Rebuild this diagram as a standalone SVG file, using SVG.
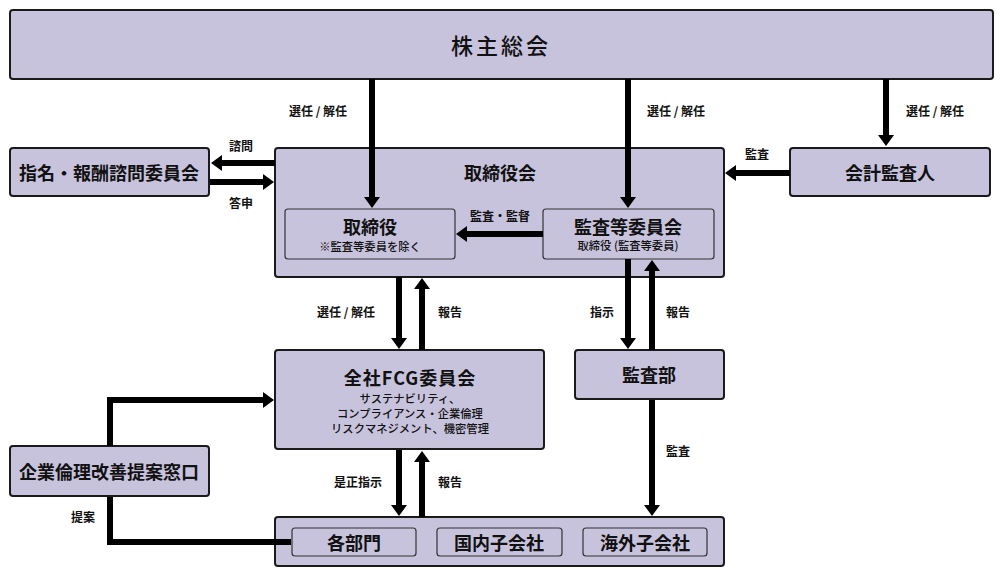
<svg xmlns="http://www.w3.org/2000/svg" width="1000" height="577" viewBox="0 0 1000 577">
<style>
  .box{fill:#c8c3dd;stroke:#1a1a1a;stroke-width:2}
  .inner{fill:#c8c3dd;stroke:#333;stroke-width:1.2}
  text{font-family:"Noto Sans CJK JP","Noto Sans",sans-serif;fill:#111;text-anchor:middle;dominant-baseline:central}
  .t{font-size:18px;font-weight:700}
  .tl{font-size:22px;font-weight:500;letter-spacing:3px}
  .s{font-size:11.3px;font-weight:500}
  .l{font-size:12px;font-weight:700}
  .c{fill:none;stroke:#000;stroke-width:6}
</style>
<defs>
  <marker id="ah" markerUnits="userSpaceOnUse" markerWidth="12" markerHeight="16" viewBox="0 0 12 16" refX="1" refY="8" orient="auto">
    <path d="M0,0 L11,8 L0,16 z" fill="#000"/>
  </marker>
</defs>
<rect x="0" y="0" width="1000" height="577" fill="#fff"/>

<g id="shareholders">
  <rect class="box" x="10" y="10" width="983" height="69" rx="3"/>
  <text class="tl" x="501" y="44">株主総会</text>
</g>
<g id="nomination">
  <rect class="box" x="10" y="148" width="199" height="48" rx="3"/>
  <text class="t" x="109" y="172">指名・報酬諮問委員会</text>
</g>
<g id="board">
  <rect class="box" x="275" y="148" width="449" height="129" rx="3"/>
  <text class="t" x="500" y="172">取締役会</text>
</g>
<g id="directors">
  <rect class="inner" x="285" y="209" width="170" height="50" rx="3"/>
  <text class="t" x="370" y="226">取締役</text>
  <text class="s" x="370" y="246">※監査等委員を除く</text>
</g>
<g id="auditcommittee">
  <rect class="inner" x="543" y="209" width="171" height="50" rx="3"/>
  <text class="t" x="628" y="226">監査等委員会</text>
  <text class="s" x="628" y="245">取締役 (監査等委員)</text>
</g>
<g id="accountingauditor">
  <rect class="box" x="790" y="148" width="200" height="48" rx="3"/>
  <text class="t" x="890" y="172">会計監査人</text>
</g>
<g id="fcg">
  <rect class="box" x="275" y="350" width="269" height="99" rx="3"/>
  <text class="t" x="410" y="377" letter-spacing="1">全社FCG委員会</text>
  <text class="s" x="410" y="398">サステナビリティ、</text>
  <text class="s" x="410" y="413">コンプライアンス・企業倫理</text>
  <text class="s" x="410" y="428">リスクマネジメント、機密管理</text>
</g>
<g id="auditdept">
  <rect class="box" x="575" y="350" width="149" height="49" rx="3"/>
  <text class="t" x="649" y="374">監査部</text>
</g>
<g id="ethics">
  <rect class="box" x="10" y="446" width="199" height="50" rx="3"/>
  <text class="t" x="109" y="471">企業倫理改善提案窓口</text>
</g>
<g id="groups">
  <rect class="box" x="275" y="517" width="449" height="49" rx="3"/>
</g>
<g id="departments">
  <rect class="inner" x="292" y="528" width="124" height="28" rx="3"/>
  <text class="t" x="354" y="542">各部門</text>
</g>
<g id="domestic">
  <rect class="inner" x="437" y="528" width="125" height="28" rx="3"/>
  <text class="t" x="499" y="542">国内子会社</text>
</g>
<g id="overseas">
  <rect class="inner" x="583" y="528" width="124" height="28" rx="3"/>
  <text class="t" x="645" y="542">海外子会社</text>
</g>

<g id="connectors">
  <path class="c" d="M372,79 V198" marker-end="url(#ah)"/>
  <path class="c" d="M628,79 V198" marker-end="url(#ah)"/>
  <path class="c" d="M886,79 V136" marker-end="url(#ah)"/>
  <path class="c" d="M275,163 H221" marker-end="url(#ah)"/>
  <path class="c" d="M210,182 H264" marker-end="url(#ah)"/>
  <path class="c" d="M790,173 H735" marker-end="url(#ah)"/>
  <path class="c" d="M543,234 H466" marker-end="url(#ah)"/>
  <path class="c" d="M399,277 V339" marker-end="url(#ah)"/>
  <path class="c" d="M422,350 V288" marker-end="url(#ah)"/>
  <path class="c" d="M628,259 V339" marker-end="url(#ah)"/>
  <path class="c" d="M652,350 V270" marker-end="url(#ah)"/>
  <path class="c" d="M652,400 V506" marker-end="url(#ah)"/>
  <path class="c" d="M399,450 V506" marker-end="url(#ah)"/>
  <path class="c" d="M422,517 V461" marker-end="url(#ah)"/>
  <path class="c" d="M110,446 V400 H264" marker-end="url(#ah)"/>
  <path class="c" d="M110,497 V542 H291"/>
  <text class="l" x="318" y="110">選任 / 解任</text>
  <text class="l" x="676" y="110">選任 / 解任</text>
  <text class="l" x="935" y="110">選任 / 解任</text>
  <text class="l" x="241" y="145">諮問</text>
  <text class="l" x="241" y="202">答申</text>
  <text class="l" x="757" y="153">監査</text>
  <text class="l" x="500" y="215">監査・監督</text>
  <text class="l" x="346" y="311">選任 / 解任</text>
  <text class="l" x="450" y="311">報告</text>
  <text class="l" x="602" y="311">指示</text>
  <text class="l" x="678" y="311">報告</text>
  <text class="l" x="678" y="450">監査</text>
  <text class="l" x="358" y="481">是正指示</text>
  <text class="l" x="450" y="481">報告</text>
  <text class="l" x="83" y="516">提案</text>
</g>
</svg>
